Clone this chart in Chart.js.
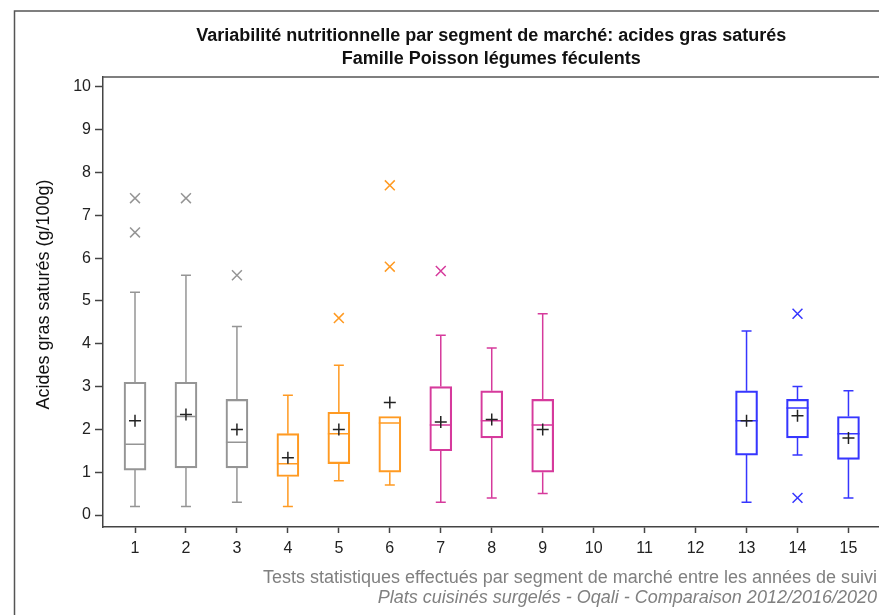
<!DOCTYPE html>
<html>
<head>
<meta charset="utf-8">
<script src="https://cdn.jsdelivr.net/npm/chart.js@4.4.0/dist/chart.umd.min.js"></script>
<style>
  html, body { margin: 0; padding: 0; background: #fff; overflow: hidden; width: 879px; height: 615px; }
</style>
</head>
<body>
<!-- un peu plus large que la fenêtre : le cadre du graphe sort à droite comme sur l'original -->
<canvas id="boxChart" width="888" height="615"></canvas>
<script>
// segments de marché 1..15 (10, 11, 12 sans données)
var segments = [1, 2, 3, 4, 5, 6, 7, 8, 9, 10, 11, 12, 13, 14, 15];
var whiskerLow = [0.2, 0.2, 0.3, 0.2, 0.8, 0.7, 0.3, 0.4, 0.5, null, null, null, 0.3, 1.4, 0.4];
var q1Values   = [1.05, 1.1, 1.1, 0.9, 1.2, 1.0, 1.5, 1.8, 1.0, null, null, null, 1.4, 1.8, 1.3];
var medians    = [1.65, 2.3, 1.7, 1.2, 1.9, 2.15, 2.1, 2.2, 2.1, null, null, null, 2.2, 2.5, 1.9];
var q3Values   = [3.1, 3.1, 2.7, 1.9, 2.4, 2.3, 3.0, 2.9, 2.7, null, null, null, 2.9, 2.7, 2.3];
var whiskerHigh = [5.2, 5.6, 4.4, 2.8, 3.5, 2.3, 4.2, 3.9, 4.7, null, null, null, 4.3, 3.0, 2.9];
var means      = [2.2, 2.35, 2.0, 1.34, 2.0, 2.63, 2.17, 2.23, 2.0, null, null, null, 2.2, 2.32, 1.8];
var outliers   = [[7.4, 6.6], [7.4], [5.6], [], [4.6], [7.7, 5.8], [5.7], [], [], [], [], [], [], [4.7, 0.4], []];
var yTicks = [0, 1, 2, 3, 4, 5, 6, 7, 8, 9, 10];

// couleur par année de suivi
var segColors = ['#959595', '#959595', '#959595', '#ff9a22', '#ff9a22', '#ff9a22',
                 '#d63a9c', '#d63a9c', '#d63a9c', null, null, null, '#3636ff', '#3636ff', '#3636ff'];

var boxData = [], boxColors = [], meanData = [], outData = [], outColors = [];
segments.forEach(function (s, i) {
  if (q1Values[i] === null) return;
  boxData.push({ x: s, y: [q1Values[i], q3Values[i]], i: i });
  boxColors.push(segColors[i]);
  meanData.push({ x: s, y: means[i] });
  outliers[i].forEach(function (v) {
    outData.push({ x: s, y: v });
    outColors.push(segColors[i]);
  });
});

var FONT = '"Liberation Sans", Arial, sans-serif';

// moustaches + médianes, dessinées après les boîtes
var whiskerPlugin = {
  id: 'whiskers',
  afterDatasetDraw: function (chart, args) {
    if (args.index !== 0) return;
    var ctx = chart.ctx, xs = chart.scales.x, ys = chart.scales.y;
    ctx.save();
    ctx.lineWidth = 1.5;
    boxData.forEach(function (d) {
      var i = d.i;
      var cx = xs.getPixelForValue(d.x);
      ctx.strokeStyle = segColors[i];
      ctx.beginPath();
      // haut
      if (whiskerHigh[i] > q3Values[i]) {
        ctx.moveTo(cx, ys.getPixelForValue(q3Values[i]));
        ctx.lineTo(cx, ys.getPixelForValue(whiskerHigh[i]));
        ctx.moveTo(cx - 5, ys.getPixelForValue(whiskerHigh[i]));
        ctx.lineTo(cx + 5, ys.getPixelForValue(whiskerHigh[i]));
      }
      // bas
      if (whiskerLow[i] < q1Values[i]) {
        ctx.moveTo(cx, ys.getPixelForValue(q1Values[i]));
        ctx.lineTo(cx, ys.getPixelForValue(whiskerLow[i]));
        ctx.moveTo(cx - 5, ys.getPixelForValue(whiskerLow[i]));
        ctx.lineTo(cx + 5, ys.getPixelForValue(whiskerLow[i]));
      }
      // médiane
      var my = ys.getPixelForValue(medians[i]);
      ctx.moveTo(cx - 11, my);
      ctx.lineTo(cx + 11, my);
      ctx.stroke();
    });
    ctx.restore();
  }
};

// cadres + notes de bas de page
var framePlugin = {
  id: 'frame',
  beforeDraw: function (chart) {
    var ctx = chart.ctx;
    ctx.save();
    ctx.fillStyle = '#fff';
    ctx.fillRect(0, 0, chart.width, chart.height);
    ctx.restore();
  },
  afterDraw: function (chart) {
    var ctx = chart.ctx, a = chart.chartArea;
    ctx.save();
    ctx.strokeStyle = '#555';
    ctx.lineWidth = 1.5;
    ctx.beginPath();
    ctx.moveTo(14.5, chart.height);
    ctx.lineTo(14.5, 11);
    ctx.lineTo(chart.width, 11);
    ctx.moveTo(a.left, a.top);
    ctx.lineTo(chart.width, a.top);
    ctx.moveTo(a.right, a.bottom);
    ctx.lineTo(chart.width, a.bottom);
    ctx.stroke();

    ctx.fillStyle = '#808080';
    ctx.textAlign = 'right';
    ctx.textBaseline = 'middle';
    ctx.font = '18px ' + FONT;
    ctx.fillText('Tests statistiques effectués par segment de marché entre les années de suivi', 877, 578);
    ctx.font = 'italic 18px ' + FONT;
    ctx.fillText('Plats cuisinés surgelés - Oqali - Comparaison 2012/2016/2020', 877, 598);
    ctx.restore();
  }
};

var ctx = document.getElementById('boxChart').getContext('2d');
var chart = new Chart(ctx, {
  data: {
    datasets: [{
      type: 'bar',
      data: boxData,
      backgroundColor: 'rgba(255,255,255,0)',
      borderColor: boxColors,
      borderWidth: 1.5,
      borderSkipped: false,
      barThickness: 22,
      order: 3
    }, {
      type: 'scatter',
      data: outData,
      pointStyle: 'crossRot',
      radius: 7,
      borderColor: outColors,
      borderWidth: 1.5,
      order: 2
    }, {
      type: 'scatter',
      data: meanData,
      pointStyle: 'cross',
      radius: 6,
      borderColor: '#222',
      borderWidth: 1.5,
      order: 1
    }]
  },
  options: {
    responsive: false,
    animation: false,
    devicePixelRatio: 1,
    layout: { padding: 0 },
    plugins: {
      legend: { display: false },
      tooltip: { enabled: false },
      title: {
        display: true,
        fullSize: false,
        text: ['Variabilité nutritionnelle par segment de marché: acides gras saturés',
               'Famille Poisson légumes féculents'],
        color: '#111',
        font: { family: FONT, size: 18, weight: 'bold', lineHeight: '23px' },
        padding: { top: 25, bottom: 6 }
      }
    },
    scales: {
      x: {
        type: 'linear',
        offset: false,
        min: 0.372,
        max: 15.609,
        afterBuildTicks: function (scale) {
          scale.ticks = segments.map(function (s) { return { value: s }; });
        },
        afterFit: function (scale) {
          scale.height = 88;
          scale.paddingLeft = 0;
          scale.paddingRight = 0;
        },
        grid: { offset: false, drawOnChartArea: false, drawTicks: true, tickLength: 6, tickColor: '#444', tickWidth: 1.5 },
        border: { color: '#444', width: 1.5 },
        ticks: { color: '#222', font: { family: FONT, size: 16 }, padding: 6, maxRotation: 0 }
      },
      y: {
        min: -0.28,
        max: 10.23,
        afterBuildTicks: function (scale) {
          scale.ticks = yTicks.map(function (v) { return { value: v }; });
        },
        afterFit: function (scale) {
          scale.width = 103;
          scale.paddingTop = 0;
          scale.paddingBottom = 0;
        },
        grid: { drawOnChartArea: false, drawTicks: true, tickLength: 8, tickColor: '#444', tickWidth: 1.5 },
        border: { color: '#444', width: 1.5 },
        ticks: { color: '#222', font: { family: FONT, size: 16 }, padding: 4 },
        title: {
          display: true,
          text: '\u00a0\u00a0\u00a0Acides gras saturés (g/100g)',
          color: '#111',
          font: { family: FONT, size: 18 },
          padding: { top: 33, bottom: 0 }
        }
      }
    }
  },
  plugins: [whiskerPlugin, framePlugin]
});
</script>
</body>
</html>
